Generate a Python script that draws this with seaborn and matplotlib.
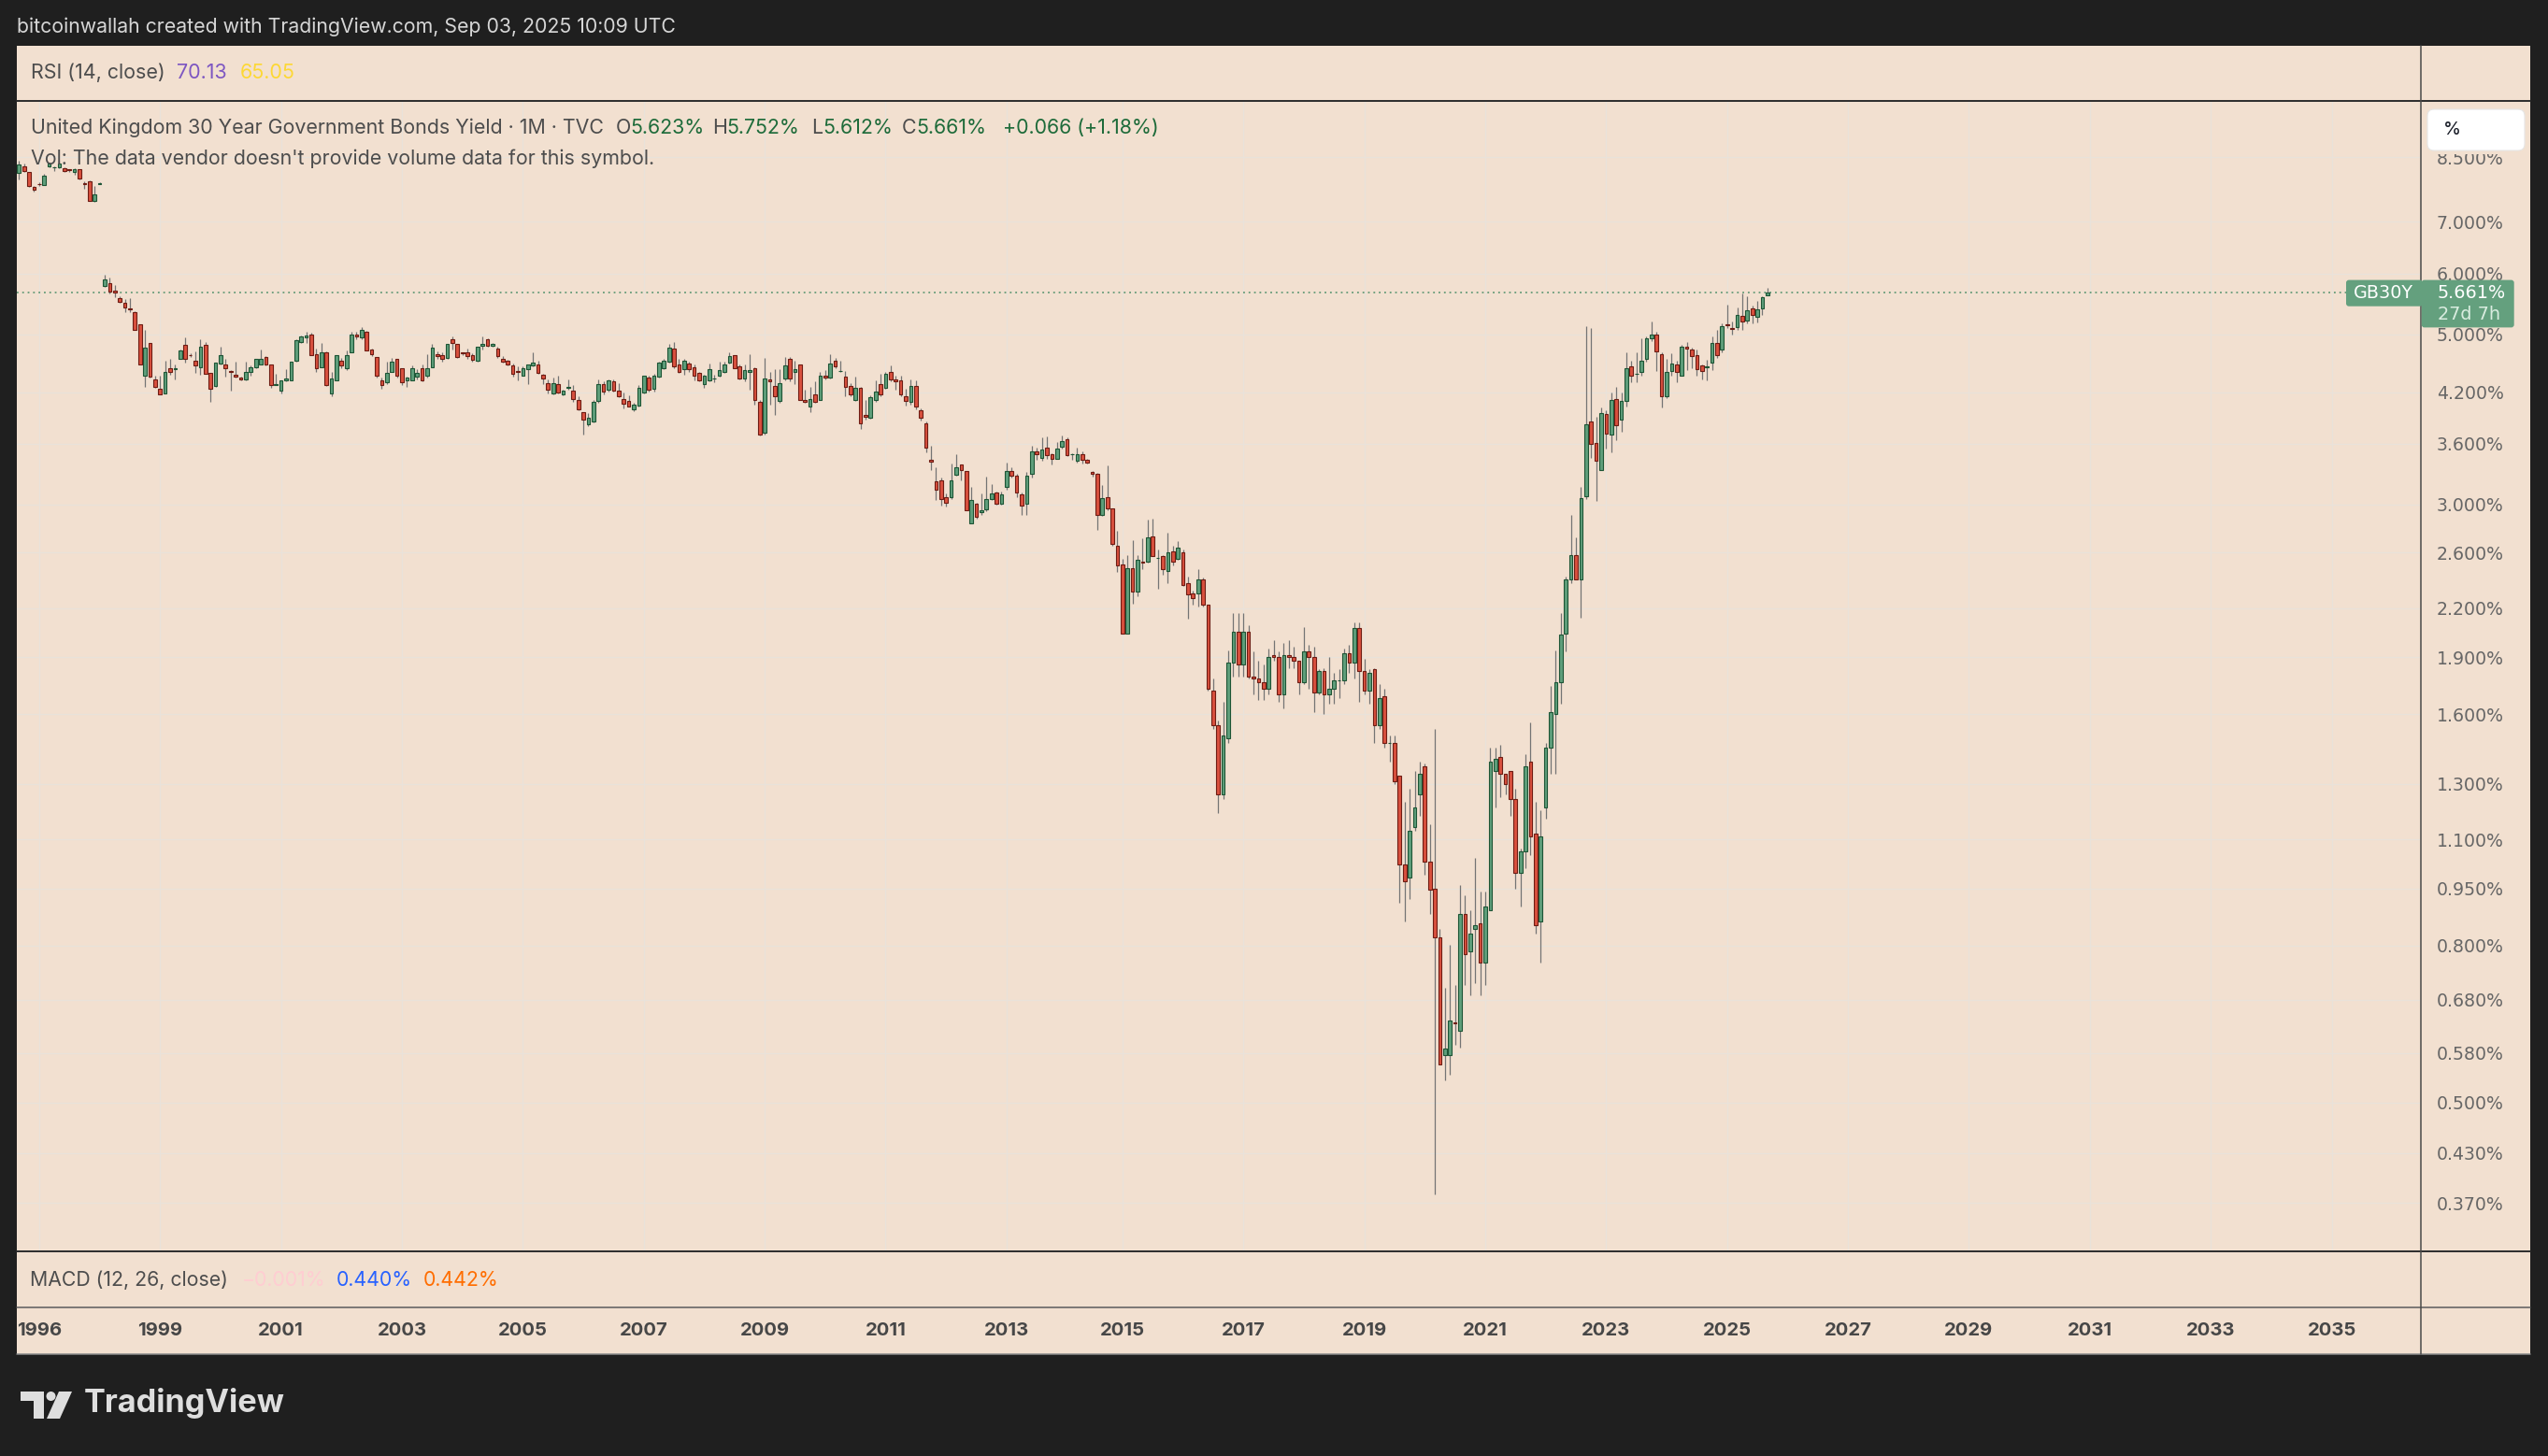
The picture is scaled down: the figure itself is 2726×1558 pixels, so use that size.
import numpy as np
import pandas as pd
import matplotlib
matplotlib.use("Agg")
import matplotlib.pyplot as plt
from matplotlib.patches import FancyBboxPatch, Polygon, Circle, Rectangle
from matplotlib.ticker import FixedLocator, NullLocator
import seaborn as sns

sns.set_theme(style="white")
plt.rcParams["font.family"] = ["Inter", "DejaVu Sans"]

# ---------------- data (monthly candles, UK 30Y gilt yield, %) ----------------
opens = [8.10, 8.28, 8.12, 7.78, 7.85, 7.82, 8.28, 8.24, 8.24, 8.23, 8.19, 8.12, 8.19, 7.87, 7.90, 7.45, 7.84,
         5.78, 5.83, 5.70, 5.57, 5.49, 5.40, 5.34, 5.15, 4.41, 4.87, 4.37, 4.25, 4.19, 4.52, 4.50, 4.64, 4.84,
         4.70, 4.62, 4.53, 4.84, 4.45, 4.28, 4.58, 4.57, 4.48, 4.43, 4.39, 4.37, 4.47, 4.53, 4.56, 4.67, 4.57,
         4.29, 4.22, 4.36, 4.35, 4.62, 4.88, 4.95, 5.00, 4.71, 4.53, 4.74, 4.19, 4.36, 4.62, 4.52, 4.74, 5.00,
         4.95, 5.03, 4.77, 4.67, 4.35, 4.33, 4.47, 4.64, 4.51, 4.35, 4.35, 4.40, 4.52, 4.41, 4.53, 4.71, 4.70,
         4.66, 4.93, 4.86, 4.73, 4.73, 4.70, 4.62, 4.83, 4.92, 4.83, 4.79, 4.64, 4.62, 4.55, 4.48, 4.42, 4.50,
         4.55, 4.56, 4.43, 4.32, 4.19, 4.31, 4.18, 4.26, 4.22, 4.10, 3.96, 3.82, 3.85, 4.09, 4.30, 4.23, 4.34,
         4.22, 4.12, 4.09, 3.99, 4.04, 4.20, 4.39, 4.24, 4.40, 4.51, 4.61, 4.79, 4.56, 4.50, 4.58, 4.53, 4.45,
         4.30, 4.36, 4.38, 4.41, 4.46, 4.59, 4.69, 4.54, 4.38, 4.46, 4.52, 4.08, 3.72, 4.37, 4.28, 4.09, 4.38,
         4.64, 4.47, 4.57, 4.11, 4.03, 4.17, 4.11, 4.41, 4.39, 4.62, 4.48, 4.40, 4.28, 4.10, 4.26, 3.92, 3.89,
         4.11, 4.30, 4.26, 4.46, 4.37, 4.35, 4.15, 4.08, 4.28, 3.98, 3.83, 3.43, 3.22, 3.23, 3.07, 3.07, 3.28,
         3.38, 3.32, 2.84, 3.01, 2.93, 2.96, 3.05, 3.11, 3.01, 3.16, 3.32, 3.27, 3.09, 3.01, 3.29, 3.52, 3.45,
         3.56, 3.49, 3.44, 3.57, 3.65, 3.49, 3.42, 3.49, 3.43, 3.31, 3.29, 2.91, 3.07, 2.97, 2.65, 2.51, 2.04,
         2.48, 2.31, 2.53, 2.53, 2.73, 2.56, 2.57, 2.46, 2.61, 2.55, 2.60, 2.37, 2.30, 2.30, 2.40, 2.22, 1.72,
         1.55, 1.26, 1.49, 1.87, 2.05, 1.86, 2.05, 1.79, 1.78, 1.76, 1.73, 1.91, 1.90, 1.70, 1.91, 1.90, 1.88,
         1.76, 1.93, 1.90, 1.71, 1.82, 1.70, 1.73, 1.77, 1.77, 1.92, 1.87, 2.07, 1.82, 1.72, 1.83, 1.55, 1.69,
         1.47, 1.47, 1.33, 1.02, 0.98, 1.14, 1.26, 1.37, 1.03, 0.95, 0.82, 0.577, 0.576, 0.636, 0.62, 0.88,
         0.787, 0.84, 0.856, 0.76, 0.89, 1.35, 1.41, 1.34, 1.35, 1.24, 0.996, 1.06, 1.39, 1.12, 0.86, 1.21,
         1.45, 1.60, 1.76, 2.04, 2.40, 2.58, 2.40, 3.08, 3.85, 3.61, 3.33, 3.94, 3.70, 4.12, 3.87, 4.09, 4.54,
         4.44, 4.46, 4.64, 4.94, 4.99, 4.71, 4.15, 4.48, 4.57, 4.42, 4.81, 4.77, 4.69, 4.55, 4.53, 4.59, 4.87,
         4.77, 5.15, 5.10, 5.11, 5.28, 5.21, 5.40, 5.27, 5.40, 5.623]
highs = [8.42, 8.33, 8.14, 7.80, 7.88, 8.08, 8.37, 8.28, 8.40, 8.25, 8.21, 8.23, 8.20, 7.91, 7.93, 7.80, 7.88,
         5.98, 5.93, 5.79, 5.60, 5.56, 5.57, 5.36, 5.15, 5.06, 4.87, 4.42, 4.42, 4.62, 4.65, 4.56, 4.78, 4.95,
         4.72, 4.75, 4.93, 4.89, 4.45, 4.59, 4.81, 4.64, 4.49, 4.60, 4.40, 4.60, 4.55, 4.65, 4.78, 4.68, 4.57,
         4.44, 4.36, 4.50, 4.60, 4.92, 4.98, 5.04, 5.02, 4.79, 4.87, 4.75, 4.47, 4.70, 4.66, 4.76, 5.03, 5.03,
         5.11, 5.05, 4.79, 4.67, 4.39, 4.60, 4.66, 4.64, 4.51, 4.40, 4.55, 4.50, 4.56, 4.71, 4.85, 4.75, 4.73,
         4.85, 4.96, 4.86, 4.74, 4.79, 4.72, 4.82, 4.96, 4.94, 4.87, 4.82, 4.68, 4.63, 4.58, 4.54, 4.54, 4.56,
         4.74, 4.62, 4.44, 4.37, 4.39, 4.42, 4.23, 4.37, 4.29, 4.15, 3.96, 3.95, 4.10, 4.37, 4.34, 4.37, 4.37,
         4.32, 4.20, 4.16, 4.07, 4.29, 4.41, 4.41, 4.44, 4.61, 4.64, 4.86, 4.89, 4.64, 4.64, 4.61, 4.56, 4.47,
         4.43, 4.58, 4.43, 4.60, 4.60, 4.74, 4.70, 4.56, 4.56, 4.71, 4.53, 4.10, 4.66, 4.46, 4.50, 4.50, 4.67,
         4.67, 4.62, 4.57, 4.23, 4.27, 4.34, 4.47, 4.49, 4.71, 4.66, 4.62, 4.48, 4.32, 4.40, 4.27, 4.10, 4.16,
         4.36, 4.44, 4.47, 4.55, 4.42, 4.42, 4.24, 4.37, 4.36, 4.00, 3.85, 3.58, 3.36, 3.25, 3.10, 3.39, 3.49,
         3.38, 3.32, 3.16, 3.02, 3.10, 3.26, 3.19, 3.12, 3.12, 3.40, 3.36, 3.29, 3.11, 3.31, 3.58, 3.56, 3.67,
         3.68, 3.50, 3.62, 3.69, 3.67, 3.50, 3.56, 3.52, 3.44, 3.32, 3.30, 3.18, 3.37, 2.97, 2.77, 2.55, 2.58,
         2.70, 2.58, 2.71, 2.87, 2.88, 2.62, 2.58, 2.76, 2.65, 2.69, 2.62, 2.42, 2.32, 2.47, 2.41, 2.22, 1.78,
         1.57, 1.66, 1.94, 2.17, 2.17, 2.17, 2.09, 1.93, 1.88, 1.86, 1.95, 2.00, 1.93, 1.98, 2.00, 1.96, 1.88,
         2.08, 1.97, 1.96, 1.83, 1.84, 1.90, 1.81, 1.83, 1.95, 1.97, 2.11, 2.11, 1.89, 1.83, 1.84, 1.75, 1.73,
         1.50, 1.50, 1.33, 1.23, 1.28, 1.35, 1.39, 1.38, 1.15, 1.53, 0.84, 0.705, 0.803, 0.71, 0.96, 0.93,
         0.89, 1.04, 0.94, 0.94, 1.45, 1.45, 1.46, 1.34, 1.35, 1.28, 1.07, 1.42, 1.56, 1.23, 1.20, 1.47,
         1.74, 1.94, 2.17, 2.42, 2.91, 2.72, 3.16, 5.12, 5.10, 3.90, 4.01, 3.98, 4.20, 4.27, 4.20, 4.74, 4.62,
         4.74, 4.94, 4.96, 5.20, 5.03, 4.73, 4.65, 4.72, 4.62, 4.84, 4.88, 4.80, 4.78, 4.57, 4.63, 4.97, 5.07,
         5.17, 5.47, 5.20, 5.42, 5.65, 5.61, 5.45, 5.52, 5.60, 5.752]
lows = [7.94, 8.14, 7.78, 7.67, 7.80, 7.81, 8.24, 8.16, 8.22, 8.14, 8.14, 8.06, 7.96, 7.74, 7.45, 7.44, 7.83,
        5.76, 5.65, 5.58, 5.50, 5.34, 5.34, 5.07, 4.56, 4.27, 4.39, 4.26, 4.17, 4.19, 4.43, 4.37, 4.64, 4.59,
        4.67, 4.45, 4.43, 4.44, 4.08, 4.27, 4.57, 4.40, 4.22, 4.39, 4.36, 4.36, 4.42, 4.51, 4.56, 4.55, 4.26,
        4.29, 4.19, 4.34, 4.35, 4.61, 4.87, 4.87, 4.70, 4.47, 4.53, 4.28, 4.15, 4.36, 4.51, 4.49, 4.73, 4.93,
        4.93, 4.76, 4.68, 4.39, 4.25, 4.31, 4.46, 4.39, 4.29, 4.27, 4.35, 4.37, 4.34, 4.39, 4.53, 4.64, 4.60,
        4.64, 4.78, 4.66, 4.70, 4.64, 4.60, 4.61, 4.78, 4.82, 4.82, 4.66, 4.59, 4.55, 4.40, 4.36, 4.41, 4.31,
        4.54, 4.44, 4.30, 4.19, 4.18, 4.19, 4.16, 4.23, 4.08, 3.98, 3.70, 3.80, 3.84, 4.07, 4.18, 4.21, 4.21,
        4.14, 4.00, 4.03, 3.97, 4.02, 4.19, 4.21, 4.21, 4.39, 4.50, 4.59, 4.52, 4.45, 4.43, 4.47, 4.36, 4.34,
        4.26, 4.34, 4.33, 4.40, 4.45, 4.58, 4.51, 4.37, 4.34, 4.23, 4.05, 3.69, 3.70, 4.05, 3.93, 4.07, 4.36,
        4.34, 4.30, 4.10, 4.07, 3.96, 4.07, 4.10, 4.37, 4.38, 4.52, 4.47, 4.15, 4.15, 4.09, 3.76, 3.87, 3.88,
        4.08, 4.15, 4.24, 4.34, 4.23, 4.15, 4.04, 4.05, 3.99, 3.86, 3.51, 3.33, 3.04, 2.99, 2.98, 3.05, 3.27,
        3.23, 2.95, 2.84, 2.88, 2.91, 2.94, 3.04, 3.00, 3.00, 3.14, 3.25, 3.07, 2.91, 2.91, 3.25, 3.43, 3.42,
        3.44, 3.38, 3.44, 3.55, 3.47, 3.43, 3.40, 3.39, 3.39, 3.26, 2.78, 2.90, 2.95, 2.65, 2.45, 2.04, 2.04,
        2.23, 2.28, 2.47, 2.52, 2.57, 2.33, 2.43, 2.37, 2.50, 2.54, 2.35, 2.13, 2.22, 2.21, 2.21, 1.72, 1.53,
        1.19, 1.24, 1.47, 1.79, 1.79, 1.79, 1.78, 1.70, 1.67, 1.67, 1.70, 1.88, 1.66, 1.63, 1.84, 1.84, 1.70,
        1.75, 1.73, 1.61, 1.70, 1.60, 1.65, 1.65, 1.68, 1.75, 1.81, 1.78, 1.66, 1.70, 1.65, 1.47, 1.53, 1.45,
        1.39, 1.30, 0.91, 0.86, 0.92, 1.13, 1.18, 0.99, 0.88, 0.38, 0.56, 0.535, 0.543, 0.595, 0.59, 0.71,
        0.69, 0.715, 0.69, 0.71, 0.89, 1.21, 1.25, 1.26, 1.18, 0.95, 0.90, 1.01, 1.05, 0.83, 0.76, 1.17,
        1.34, 1.34, 1.65, 1.93, 2.37, 2.40, 2.14, 3.05, 3.45, 3.03, 3.33, 3.55, 3.51, 3.64, 3.73, 4.03, 4.33,
        4.33, 4.41, 4.60, 4.90, 4.48, 4.01, 4.13, 4.42, 4.33, 4.41, 4.49, 4.52, 4.41, 4.37, 4.36, 4.49, 4.66,
        4.74, 5.10, 4.99, 5.07, 5.06, 5.17, 5.17, 5.18, 5.30, 5.612]
closes = [8.32, 8.16, 7.80, 7.71, 7.84, 8.05, 8.34, 8.24, 8.33, 8.16, 8.18, 8.21, 7.97, 7.83, 7.46, 7.60, 7.87,
          5.90, 5.68, 5.66, 5.51, 5.41, 5.39, 5.07, 4.57, 4.80, 4.40, 4.27, 4.17, 4.47, 4.46, 4.52, 4.76, 4.64,
          4.69, 4.55, 4.82, 4.44, 4.25, 4.59, 4.69, 4.51, 4.47, 4.40, 4.37, 4.46, 4.53, 4.64, 4.65, 4.56, 4.29,
          4.30, 4.36, 4.38, 4.60, 4.91, 4.96, 4.98, 4.70, 4.51, 4.74, 4.29, 4.38, 4.69, 4.55, 4.69, 5.00, 4.96,
          5.07, 4.76, 4.71, 4.41, 4.29, 4.45, 4.60, 4.41, 4.33, 4.39, 4.51, 4.45, 4.35, 4.52, 4.80, 4.68, 4.64,
          4.85, 4.87, 4.67, 4.72, 4.68, 4.63, 4.82, 4.86, 4.83, 4.86, 4.68, 4.61, 4.56, 4.44, 4.47, 4.51, 4.56,
          4.59, 4.45, 4.38, 4.23, 4.32, 4.20, 4.22, 4.27, 4.12, 3.99, 3.87, 3.89, 4.08, 4.31, 4.21, 4.35, 4.22,
          4.15, 4.06, 4.03, 4.05, 4.26, 4.41, 4.23, 4.41, 4.59, 4.62, 4.80, 4.54, 4.46, 4.62, 4.50, 4.41, 4.36,
          4.41, 4.50, 4.38, 4.49, 4.57, 4.68, 4.52, 4.38, 4.49, 4.49, 4.11, 3.70, 4.38, 4.34, 4.15, 4.32, 4.55,
          4.38, 4.50, 4.10, 4.08, 4.12, 4.08, 4.42, 4.39, 4.58, 4.54, 4.48, 4.27, 4.17, 4.26, 3.83, 3.90, 4.14,
          4.21, 4.17, 4.44, 4.37, 4.34, 4.17, 4.09, 4.28, 4.02, 3.89, 3.56, 3.41, 3.14, 3.05, 3.02, 3.23, 3.36,
          3.33, 2.95, 3.04, 2.89, 2.95, 3.05, 3.10, 3.01, 3.09, 3.32, 3.27, 3.11, 2.99, 3.27, 3.52, 3.49, 3.54,
          3.48, 3.44, 3.55, 3.63, 3.48, 3.49, 3.49, 3.43, 3.40, 3.29, 2.91, 3.06, 2.97, 2.67, 2.50, 2.04, 2.48,
          2.31, 2.54, 2.52, 2.72, 2.57, 2.56, 2.47, 2.60, 2.53, 2.64, 2.36, 2.29, 2.27, 2.40, 2.22, 1.73, 1.55,
          1.26, 1.50, 1.87, 2.05, 1.86, 2.05, 1.79, 1.78, 1.76, 1.73, 1.90, 1.90, 1.70, 1.91, 1.90, 1.88, 1.76,
          1.93, 1.90, 1.71, 1.82, 1.70, 1.73, 1.77, 1.77, 1.92, 1.87, 2.07, 1.82, 1.72, 1.81, 1.55, 1.68, 1.47,
          1.47, 1.31, 1.02, 0.97, 1.13, 1.21, 1.34, 1.03, 0.945, 0.82, 0.56, 0.587, 0.64, 0.634, 0.88, 0.78,
          0.83, 0.85, 0.76, 0.90, 1.39, 1.40, 1.34, 1.30, 1.24, 0.996, 1.06, 1.37, 1.11, 0.85, 1.11, 1.45,
          1.61, 1.76, 2.03, 2.40, 2.58, 2.40, 3.06, 3.82, 3.60, 3.42, 3.95, 3.71, 4.10, 3.81, 4.09, 4.51, 4.42,
          4.44, 4.62, 4.94, 4.99, 4.75, 4.15, 4.46, 4.58, 4.46, 4.81, 4.79, 4.68, 4.50, 4.48, 4.54, 4.87, 4.70,
          5.12, 5.13, 5.08, 5.30, 5.20, 5.37, 5.30, 5.38, 5.59, 5.661]

year_labels = ["1996", "1999", "2001", "2003", "2005", "2007", "2009", "2011", "2013", "2015",
               "2017", "2019", "2021", "2023", "2025", "2027", "2029", "2031", "2033", "2035"]
year_bars = [4, 28, 52, 76, 100, 124, 148, 172, 196, 219, 243, 267, 291, 315, 339, 363, 387, 411, 435, 459]
price_ticks = [8.5, 7.0, 6.0, 5.0, 4.2, 3.6, 3.0, 2.6, 2.2, 1.9, 1.6, 1.3, 1.1, 0.95, 0.8, 0.68, 0.58,
               0.5, 0.43, 0.37]
last_price = 5.661

# ---------------- style ----------------
DARK = "#1f1f1f"
BEIGE = "#f2e0d0"
GRID = "#e9e2da"
UP, UP_EDGE = "#5f9f7b", "#1d5535"
DN, DN_EDGE = "#d9503e", "#6e1c13"
WICK = "#747474"
TXT = "#4d4d4d"
GREEN_TXT = "#1e6b3a"
LABEL_GREEN = "#64a07e"

W, H = 2726, 1558
DPI = 100
fig = plt.figure(figsize=(W / DPI, H / DPI), dpi=DPI)
fig.patch.set_facecolor(DARK)


def frac(x0, y0, x1, y1):
    return [x0 / W, 1 - y1 / H, (x1 - x0) / W, (y1 - y0) / H]


# chart background
ax_bg = fig.add_axes(frac(18, 49, 2707, 1449))
ax_bg.set_facecolor(BEIGE)
ax_bg.set_xticks([])
ax_bg.set_yticks([])
for s in ax_bg.spines.values():
    s.set_visible(False)

# main price pane
ax = fig.add_axes(frac(18, 108, 2590, 1339))
ax.set_facecolor("none")
ax.set_yscale("log")
ax.set_ylim(0.320, 10.06)
ax.set_xlim(-0.43, 476.7)
for s in ax.spines.values():
    s.set_visible(False)

df = pd.DataFrame({"bar": np.arange(len(closes)), "open": opens, "high": highs,
                   "low": lows, "close": closes})
df["up"] = df["close"] >= df["open"]
df["lo"] = df[["open", "close"]].min(axis=1)
df["hi"] = df[["open", "close"]].max(axis=1)

ax.vlines(df["bar"], df["low"], df["high"], color=WICK, lw=0.9, zorder=2)
u = df[df["up"]]
d = df[~df["up"]]
ax.bar(u["bar"], u["hi"] - u["lo"], bottom=u["lo"], width=0.68, color=UP,
       edgecolor=UP_EDGE, linewidth=0.8, zorder=3)
ax.bar(d["bar"], d["hi"] - d["lo"], bottom=d["lo"], width=0.68, color=DN,
       edgecolor=DN_EDGE, linewidth=0.8, zorder=3)
ax.axhline(last_price, color="#4e8f69", lw=1.1, ls=(0, (1.2, 2.6)), zorder=1)

ax.yaxis.set_major_locator(FixedLocator(price_ticks))
ax.yaxis.set_minor_locator(NullLocator())
ax.set_yticklabels([f"{t:.3f}%" for t in price_ticks])
ax.yaxis.tick_right()
ax.tick_params(axis="y", length=0, pad=12, labelsize=13.6, labelcolor="#666666",
               labelfontfamily="DejaVu Sans")
ax.set_xticks(year_bars)
ax.set_xticklabels([])
ax.tick_params(axis="x", length=0)
ax.grid(True, color=GRID, lw=0.9, zorder=0)
ax.set_axisbelow(True)

# time axis
ax_t = fig.add_axes(frac(18, 1399, 2590, 1449), sharex=ax)
ax_t.set_facecolor("none")
ax_t.set_yticks([])
ax_t.tick_params(axis="x", length=0, labelbottom=False)
for s in ax_t.spines.values():
    s.set_visible(False)
for b, lab in zip(year_bars, year_labels):
    ax_t.text(b, 0.5, lab, transform=ax_t.get_xaxis_transform(), ha="center", va="center",
              fontsize=14.6, fontweight="bold", color="#474747", clip_on=True)

# overlay in pixel coordinates
ov = fig.add_axes([0, 0, 1, 1])
ov.set_xlim(0, W)
ov.set_ylim(H, 0)
ov.set_facecolor("none")
ov.set_axis_off()

# price-scale header strip (hides the top of the 8.500% label, as in the reference)
ov.add_patch(Rectangle((2591, 109), 116, 55.5, fc=BEIGE, ec="none", zorder=4))

ov.plot([18, 2707], [108, 108], color="#2c2c2c", lw=1.4)
ov.plot([18, 2707], [1339, 1339], color="#2c2c2c", lw=1.4)
ov.plot([18, 2707], [1399, 1399], color="#5c5c5c", lw=1.1)
ov.plot([18, 2707], [1448.5, 1448.5], color="#8a8a8a", lw=1.1)
ov.plot([2590, 2590], [49, 1449], color="#4a4a4a", lw=1.1)

renderer = fig.canvas.get_renderer()


def put(x, y, s, color, size, **kw):
    return ov.text(x, y, s, color=color, fontsize=size, ha=kw.pop("ha", "left"),
                   va="center", **kw)


def wpx(t):
    return t.get_window_extent(renderer).width


def fit(t, target):
    t.set_fontsize(t.get_fontsize() * target / wpx(t))
    return t.get_fontsize()


# header
t = put(18.4, 28.5, "bitcoinwallah created with TradingView.com, Sep 03, 2025 10:09 UTC", "#d6d6d6", 14)
fit(t, 706)

# RSI pane legend
t = put(32.7, 78, "RSI (14, close)", TXT, 13)
fs = fit(t, 143.5)
put(189, 78, "70.13", "#7e57c2", fs)
put(256.6, 78, "65.05", "#fdd835", fs)

# title line
t = put(32.7, 137, "United Kingdom 30 Year Government Bonds Yield · 1M · TVC", TXT, 13)
fs = fit(t, 613)
for x, letter, val in [(658.4, "O", "5.623%"), (761.8, "H", "5.752%"),
                       (868.5, "L", "5.612%"), (965.0, "C", "5.661%")]:
    tl = put(x, 137, letter, TXT, fs)
    put(x + wpx(tl), 137, val, GREEN_TXT, fs)
put(1073, 137, "+0.066 (+1.18%)", GREEN_TXT, fs)
t = put(32.7, 170, "Vol: The data vendor doesn't provide volume data for this symbol.", TXT, fs)
fit(t, 667)

# MACD pane legend
t = put(32, 1370, "MACD (12, 26, close)", TXT, 13)
fs = fit(t, 212)
put(259, 1370, "\u22120.001%", "#ffcdd2", fs)
put(360, 1370, "0.440%", "#2962ff", fs)
put(453, 1370, "0.442%", "#ff6d00", fs)

# % button
ov.add_patch(FancyBboxPatch((2597, 117), 104, 44, boxstyle="round,pad=0,rounding_size=7",
                            fc="white", ec="#e6e6e6", lw=0.8, zorder=5))
put(2623, 139, "%", "#131722", 14, ha="center", zorder=6)

# symbol / last price labels
ov.add_patch(FancyBboxPatch((2510, 299.6), 82, 28.1, boxstyle="round,pad=0,rounding_size=3",
                            fc=LABEL_GREEN, ec="none", zorder=5))
t = put(2549.5, 313.6, "GB30Y", "white", 13.5, ha="center", family="DejaVu Sans", zorder=6)
fit(t, 64)
ov.add_patch(FancyBboxPatch((2590.7, 299.6), 99, 50.8, boxstyle="round,pad=0,rounding_size=3",
                            fc=LABEL_GREEN, ec="none", zorder=5))
t = put(2608, 313.5, "5.661%", "white", 13.5, family="DejaVu Sans", zorder=6)
fs = fit(t, 73)
put(2608, 336.6, "27d 7h", "#d9ecdf", fs, family="DejaVu Sans", zorder=6)

# TradingView logo (bottom)
LOGO = "#dedede"
ov.add_patch(Polygon([(22, 1489), (47, 1489), (47, 1518), (36, 1518), (36, 1499), (22, 1499)],
                     closed=True, fc=LOGO, ec="none"))
ov.add_patch(Circle((54.5, 1494), 5, fc=LOGO, ec="none"))
ov.add_patch(Polygon([(63, 1489), (77, 1489), (64, 1518), (50, 1518)], closed=True, fc=LOGO, ec="none"))
t = put(90, 1502, "TradingView", LOGO, 24, fontweight="bold")
fit(t, 216)

fig.savefig("out.png", dpi=DPI, facecolor=DARK)
